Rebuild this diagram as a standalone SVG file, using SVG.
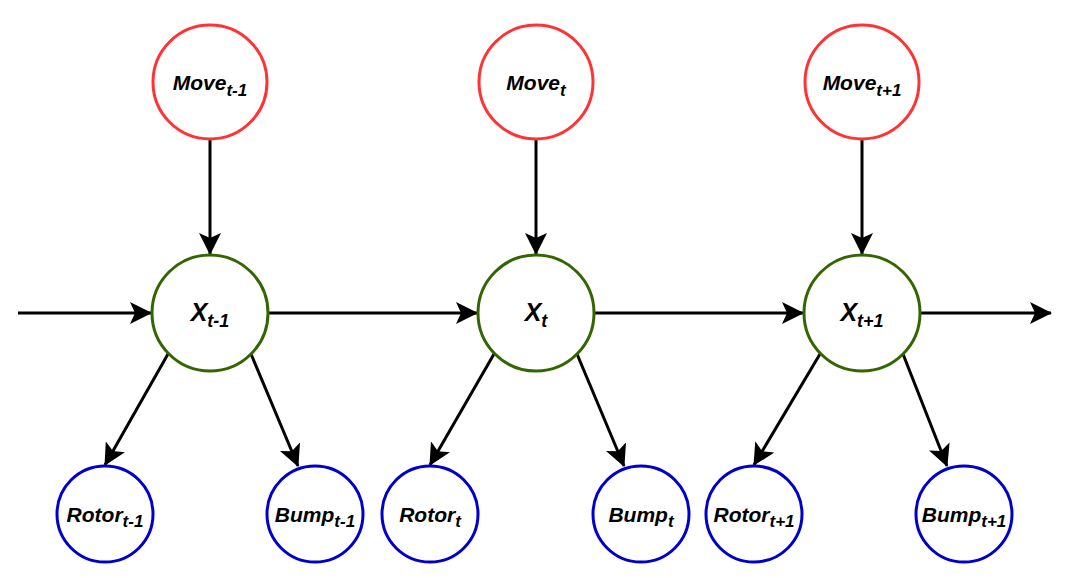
<svg xmlns="http://www.w3.org/2000/svg" width="1066" height="578" viewBox="0 0 1066 578">
<style>
.bg{fill:#fff}
.n{fill:#fff;stroke-width:3}
.move{stroke:#ff3333}
.x{stroke:#336600}
.obs{stroke:#0000cc}
.e{stroke:#000;stroke-width:3;fill:none;marker-end:url(#arr)}
text{font-family:"Liberation Sans",Arial,sans-serif;font-weight:bold;font-style:italic;fill:#000;text-anchor:middle}
.t20{font-size:21px}
.t24{font-size:25px}
.sub{font-size:17px}
.subx{font-size:18px}
</style>
<defs>
<marker id="arr" viewBox="0 0 22 22" refX="21" refY="11" markerWidth="22" markerHeight="22" markerUnits="userSpaceOnUse" orient="auto">
<path d="M0,0 L22,11 L0,22 L5,11 Z" fill="#000"/>
</marker>
</defs>
<rect class="bg" x="0" y="0" width="1066" height="578"/>
<g id="connectors">
<line class="e" x1="18" y1="313" x2="151" y2="313"/>
<line class="e" x1="268" y1="313" x2="477" y2="313"/>
<line class="e" x1="594" y1="313" x2="803" y2="313"/>
<line class="e" x1="920" y1="313" x2="1051" y2="313"/>
<line class="e" x1="210" y1="139" x2="210" y2="254"/>
<line class="e" x1="536" y1="139" x2="536" y2="254"/>
<line class="e" x1="862" y1="139" x2="862" y2="254"/>
<line class="e" x1="168" y1="354" x2="105" y2="465"/>
<line class="e" x1="251" y1="354" x2="298" y2="466"/>
<line class="e" x1="494" y1="354" x2="430" y2="465"/>
<line class="e" x1="577" y1="354" x2="624" y2="466"/>
<line class="e" x1="820" y1="354" x2="754" y2="465"/>
<line class="e" x1="903" y1="354" x2="947" y2="466"/>
</g>
<g id="move_tm1"><circle class="n move" cx="210" cy="82" r="57"/><text class="t20" x="210" y="90">Move<tspan class="sub" dy="6">t-1</tspan></text></g>
<g id="move_t"><circle class="n move" cx="536" cy="82" r="57"/><text class="t20" x="536" y="90">Move<tspan class="sub" dy="6">t</tspan></text></g>
<g id="move_tp1"><circle class="n move" cx="862" cy="82" r="57"/><text class="t20" x="862" y="90">Move<tspan class="sub" dy="6">t+1</tspan></text></g>
<g id="x_tm1"><circle class="n x" cx="210" cy="313" r="58"/><text class="t24" x="210" y="321">X<tspan class="subx" dy="6">t-1</tspan></text></g>
<g id="x_t"><circle class="n x" cx="536" cy="313" r="58"/><text class="t24" x="536" y="321">X<tspan class="subx" dy="6">t</tspan></text></g>
<g id="x_tp1"><circle class="n x" cx="862" cy="313" r="58"/><text class="t24" x="862" y="321">X<tspan class="subx" dy="6">t+1</tspan></text></g>
<g id="rotor_tm1"><circle class="n obs" cx="105" cy="514" r="48"/><text class="t20" x="105" y="522">Rotor<tspan class="sub" dy="5">t-1</tspan></text></g>
<g id="bump_tm1"><circle class="n obs" cx="315" cy="514" r="48"/><text class="t20" x="315" y="522">Bump<tspan class="sub" dy="5">t-1</tspan></text></g>
<g id="rotor_t"><circle class="n obs" cx="430" cy="514" r="48"/><text class="t20" x="430" y="522">Rotor<tspan class="sub" dy="5">t</tspan></text></g>
<g id="bump_t"><circle class="n obs" cx="641" cy="514" r="48"/><text class="t20" x="641" y="522">Bump<tspan class="sub" dy="5">t</tspan></text></g>
<g id="rotor_tp1"><circle class="n obs" cx="754" cy="514" r="48"/><text class="t20" x="754" y="522">Rotor<tspan class="sub" dy="5">t+1</tspan></text></g>
<g id="bump_tp1"><circle class="n obs" cx="964" cy="514" r="48"/><text class="t20" x="964" y="522">Bump<tspan class="sub" dy="5">t+1</tspan></text></g>
</svg>
